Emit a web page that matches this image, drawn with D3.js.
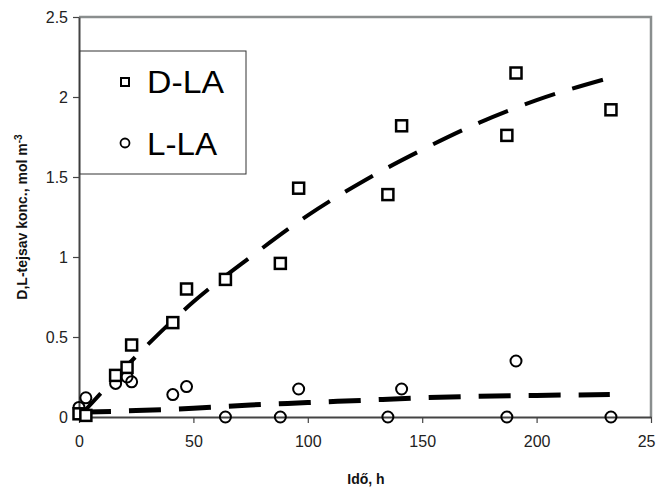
<!DOCTYPE html>
<html>
<head>
<meta charset="utf-8">
<script src="https://cdn.jsdelivr.net/npm/d3@7"></script>
<style>
  body { margin: 0; background: #fff; }
  svg { display: block; font-family: "Liberation Sans", Arial, sans-serif; }
</style>
</head>
<body>
<div id="chart"></div>
<script>
// measured time points (h)
const ido = [0, 3, 16, 21, 23, 41, 47, 64, 88, 96, 135, 141, 187, 191, 232.5];
const dLA = [0.02, 0.01, 0.26, 0.31, 0.45, 0.59, 0.80, 0.86, 0.96, 1.43, 1.39, 1.82, 1.76, 2.15, 1.92];
const lLA = [0.06, 0.12, 0.21, 0.25, 0.22, 0.14, 0.19, 0, 0, 0.175, 0, 0.175, 0, 0.35, 0];

// model curves (dashed)
const fitX = [0, 25, 50, 75, 100, 125, 150, 175, 200, 232];
const fitD = [0, 0.38, 0.72, 1.0, 1.26, 1.48, 1.67, 1.84, 1.98, 2.12];
const fitL = [0.03, 0.04, 0.055, 0.075, 0.09, 0.105, 0.12, 0.13, 0.135, 0.14];

const xTicks = [0, 50, 100, 150, 200, 250];
const yTicks = [0, 0.5, 1, 1.5, 2, 2.5];
const xTickLabels = ["0", "50", "100", "150", "200", "25"];

const width = 656, height = 487;
const margin = {left: 79, right: 5, top: 17, bottom: 70};

const svg = d3.select("#chart").append("svg")
    .attr("width", width)
    .attr("height", height);

const x = d3.scaleLinear([0, 250], [margin.left, width - margin.right]);
const y = d3.scaleLinear([0, 2.5], [height - margin.bottom, margin.top]);

// plot frame (top & right, grey)
svg.append("path")
    .attr("d", `M${x(0)},${y(2.5)}H${x(250)}V${y(0)}`)
    .attr("fill", "none")
    .attr("stroke", "#8a8e8e")
    .attr("stroke-width", 2.5);

// dashed curves
const line = d3.line().curve(d3.curveMonotoneX);
svg.append("path")
    .datum(fitX.map((t, i) => [x(t), y(fitD[i])]))
    .attr("d", line)
    .attr("fill", "none")
    .attr("stroke", "#000")
    .attr("stroke-width", 4)
    .attr("stroke-dasharray", "32,18");

svg.append("path")
    .datum(fitX.map((t, i) => [x(t), y(fitL[i])]))
    .attr("d", line)
    .attr("fill", "none")
    .attr("stroke", "#000")
    .attr("stroke-width", 5)
    .attr("stroke-dasharray", "32,18");

// axes
const gx = svg.append("g")
    .attr("transform", `translate(0,${y(0)})`)
    .call(d3.axisBottom(x).tickValues(xTicks).tickFormat((d, i) => xTickLabels[i]).tickSize(6).tickSizeOuter(0).tickPadding(13));
const gy = svg.append("g")
    .attr("transform", `translate(${x(0)},0)`)
    .call(d3.axisLeft(y).tickValues(yTicks).tickFormat(d3.format("")).tickSize(6).tickSizeOuter(0).tickPadding(5));

[gx, gy].forEach(g => {
    g.select(".domain").attr("stroke", "#444").attr("stroke-width", 2);
    g.selectAll(".tick line").attr("stroke", "#444").attr("stroke-width", 1.2);
    g.selectAll(".tick text").attr("fill", "#222").style("font-size", "16px")
        .style("font-family", "'Liberation Sans', Arial, sans-serif");
});
gx.select(".tick:last-of-type text").attr("text-anchor", "end").attr("dx", "4");

// markers
svg.append("g").selectAll("circle")
    .data(ido.map((t, i) => [t, lLA[i]]))
    .join("circle")
    .attr("cx", d => x(d[0]))
    .attr("cy", d => y(d[1]))
    .attr("r", 5.5)
    .attr("fill", "none")
    .attr("stroke", "#000")
    .attr("stroke-width", 2);

svg.append("g").selectAll("rect")
    .data(ido.map((t, i) => [t, dLA[i]]))
    .join("rect")
    .attr("x", d => x(d[0]) - 5.5)
    .attr("y", d => y(d[1]) - 5.5)
    .attr("width", 11)
    .attr("height", 11)
    .attr("fill", "#fff")
    .attr("stroke", "#000")
    .attr("stroke-width", 2.5);

// axis titles
svg.append("text")
    .attr("x", 366)
    .attr("y", 484)
    .attr("text-anchor", "middle")
    .style("font-size", "14px")
    .style("font-weight", "bold")
    .attr("fill", "#111")
    .text("Idő, h");

const yt = svg.append("text")
    .attr("transform", "translate(27,217) rotate(-90)")
    .attr("text-anchor", "middle")
    .style("font-size", "14px")
    .style("font-weight", "bold")
    .attr("fill", "#111");
yt.append("tspan").text("D,L-tejsav konc., mol m");
yt.append("tspan").attr("dy", -5).style("font-size", "10px").text("-3");

// legend
const leg = svg.append("g");
leg.append("rect")
    .attr("x", 80).attr("y", 51)
    .attr("width", 166).attr("height", 123)
    .attr("fill", "#fff")
    .attr("stroke", "#333")
    .attr("stroke-width", 1);
leg.append("rect")
    .attr("x", 121).attr("y", 78)
    .attr("width", 8).attr("height", 8)
    .attr("fill", "none").attr("stroke", "#000").attr("stroke-width", 2);
leg.append("circle")
    .attr("cx", 125).attr("cy", 143).attr("r", 4.5)
    .attr("fill", "none").attr("stroke", "#000").attr("stroke-width", 1.8);
leg.append("text")
    .attr("x", 147).attr("y", 93)
    .style("font-size", "31px")
    .attr("textLength", 77)
    .attr("lengthAdjust", "spacingAndGlyphs")
    .attr("fill", "#000")
    .text("D-LA");
leg.append("text")
    .attr("x", 147).attr("y", 155)
    .style("font-size", "31px")
    .attr("textLength", 70)
    .attr("lengthAdjust", "spacingAndGlyphs")
    .attr("fill", "#000")
    .text("L-LA");
</script>
</body>
</html>
